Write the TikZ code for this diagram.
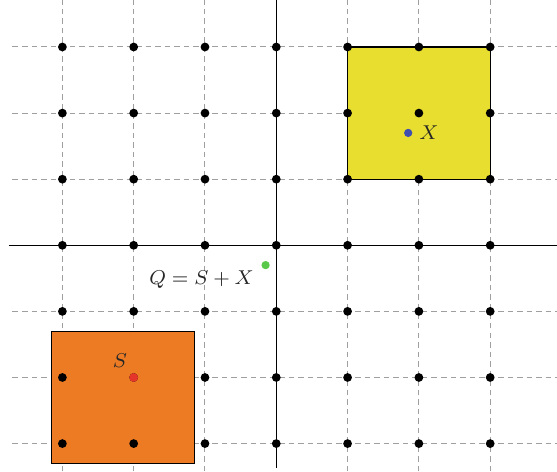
\documentclass[tikz,border=0pt]{standalone}
\usepackage{amsmath,amssymb}
\usepackage{xcolor}
\usetikzlibrary{calc}

\definecolor{boxyellow}{HTML}{E8DE2F}
\definecolor{boxorange}{HTML}{EC7B24}
\definecolor{ptred}{HTML}{E5352A}
\definecolor{ptblue}{HTML}{3F4FB0}
\definecolor{ptgreen}{HTML}{5AC84A}

\begin{document}
\begin{tikzpicture}[x=1cm, y=0.927cm, gridline/.style={gray!75, line width=0.4pt, dash pattern=on 2.2pt off 1.6pt}, vtx/.style={circle, fill=black, inner sep=0pt, minimum size=3.5pt}, pt/.style={circle, inner sep=0pt, minimum size=3.3pt}, lbl/.style={text=black!85, font=\fontsize{8.4}{10}\selectfont}]
\useasboundingbox (-3.875,-3.415) rectangle (3.937,3.711);
\foreach \k in {-3,-2,-1,1,2,3} {
  \draw[gridline] (-3.7,\k) -- (3.94,\k);
  \draw[gridline] (\k,-3.42) -- (\k,3.72);
}
\draw[fill=boxyellow, line width=0.5pt] (1,1) rectangle (3,3);
\draw[fill=boxorange, line width=0.5pt] (-3.15,-3.3) rectangle (-1.15,-1.3);
\draw[line width=0.6pt] (-3.75,0) -- (3.94,0);
\draw[line width=0.6pt] (0,-3.37) -- (0,3.72);
\foreach \i in {-3,...,3}
  \foreach \j in {-3,...,3}
    \node[vtx] (v\i\j) at (\i,\j) {};
\node[pt, fill=ptblue] (X) at (1.85,1.7) {};
\node[vtx, fill=ptred] (S) at (-2,-2) {};
\node[pt, fill=ptgreen] (Q) at (-0.15,-0.3) {};
\node[lbl, anchor=base] (Xlbl) at (2.142,1.593) {$X$};
\node[lbl, anchor=base] (Slbl) at (-2.192,-1.846) {$S$};
\node[lbl, anchor=base] (Qlbl) at (-1.049,-0.59) {$Q = S + X$};
\end{tikzpicture}
\end{document}
